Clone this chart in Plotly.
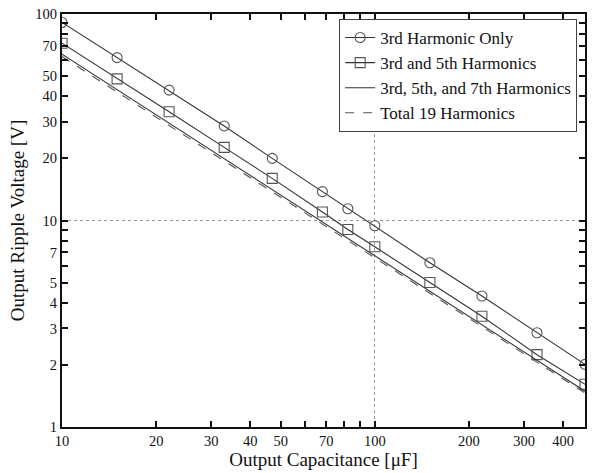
import plotly.graph_objects as go

# Data
cap_uF = [10, 15, 22, 33, 47, 68, 82, 100, 150, 220, 330, 470]
h3_only = [91, 61.5, 42.8, 28.7, 20.0, 13.8, 11.4, 9.43, 6.24, 4.31, 2.86, 2.01]
h3_5 = [72.2, 48.5, 33.6, 22.6, 16.0, 11.0, 9.05, 7.46, 5.01, 3.44, 2.24, 1.61]
h3_5_7 = [63.9, 43.0, 29.6, 19.9, 14.1, 9.84, 8.20, 6.75, 4.55, 3.13, 2.11, 1.49]
h_total19 = [62.2, 41.9, 28.8, 19.4, 13.8, 9.60, 8.00, 6.59, 4.44, 3.05, 2.06, 1.46]

names = ["3rd Harmonic Only", "3rd and 5th Harmonics",
         "3rd, 5th, and 7th Harmonics", "Total 19 Harmonics"]

x_ticks = [10, 20, 30, 40, 50, 70, 100, 200, 300, 400]
x_minor = [60, 80, 90]
y_ticks = [1, 2, 3, 4, 5, 7, 10, 20, 30, 40, 50, 70, 100]
y_minor = [6, 8, 9, 60, 80, 90]
grid_x = [100]
grid_y = [10]

FONT = "Liberation Serif"
LINE = "#333333"
MARK = "#555555"

fig = go.Figure()
fig.add_trace(go.Scatter(x=cap_uF, y=h3_only, name=names[0], mode="lines+markers",
                         line=dict(color=LINE, width=1.1),
                         marker=dict(symbol="circle-open", size=10, color=MARK, line=dict(width=1.1))))
fig.add_trace(go.Scatter(x=cap_uF, y=h3_5, name=names[1], mode="lines+markers",
                         line=dict(color=LINE, width=1.1),
                         marker=dict(symbol="square-open", size=10, color=MARK, line=dict(width=1.1))))
fig.add_trace(go.Scatter(x=cap_uF, y=h3_5_7, name=names[2], mode="lines",
                         line=dict(color=LINE, width=1.1)))
fig.add_trace(go.Scatter(x=cap_uF, y=h_total19, name=names[3], mode="lines",
                         line=dict(color="#555555", width=1.1, dash="dash")))
# invisible trace so overlay (grid) axes are drawn
fig.add_trace(go.Scatter(x=[], y=[], xaxis="x2", yaxis="y2", showlegend=False, hoverinfo="skip"))

axis_common = dict(type="log", showline=True, linecolor="#111", linewidth=2, mirror="ticks",
                   ticks="inside", ticklen=6, tickwidth=1.5, tickcolor="#111",
                   showgrid=False, zeroline=False,
                   tickfont=dict(family=FONT, size=14.5, color="#111"))

fig.update_layout(
    width=592, height=473,
    margin=dict(l=62, r=5, t=14, b=46),
    paper_bgcolor="white", plot_bgcolor="white",
    font=dict(family=FONT, color="#111"),
    showlegend=True,
    legend=dict(x=0.985, y=0.988, xanchor="right", yanchor="top",
                bgcolor="white", bordercolor="#444", borderwidth=1,
                font=dict(family=FONT, size=17, color="#111"),
                itemwidth=30, tracegroupgap=0),
    xaxis=dict(**axis_common, range=[1, 2.672],
               tickvals=x_ticks, ticktext=[str(v) for v in x_ticks],
               minor=dict(tickvals=x_minor, ticks="inside", ticklen=6, tickcolor="#111"),
               title=dict(text="Output Capacitance [μF]", font=dict(family=FONT, size=19, color="#111"), standoff=2)),
    yaxis=dict(**axis_common, range=[0, 2],
               tickvals=y_ticks, ticktext=[str(v) for v in y_ticks],
               minor=dict(tickvals=y_minor, ticks="inside", ticklen=6, tickcolor="#111"),
               title=dict(text="Output Ripple Voltage [V]", font=dict(family=FONT, size=19, color="#111"), standoff=6)),
    xaxis2=dict(type="log", range=[1, 2.672], overlaying="x", anchor="y",
                tickvals=grid_x, showticklabels=False, ticks="", showline=False,
                showgrid=True, gridcolor="#999", griddash="dot", gridwidth=1, zeroline=False),
    yaxis2=dict(type="log", range=[0, 2], overlaying="y", anchor="x",
                tickvals=grid_y, showticklabels=False, ticks="", showline=False,
                showgrid=True, gridcolor="#999", griddash="dot", gridwidth=1, zeroline=False),
)

fig.write_html("out.html")
